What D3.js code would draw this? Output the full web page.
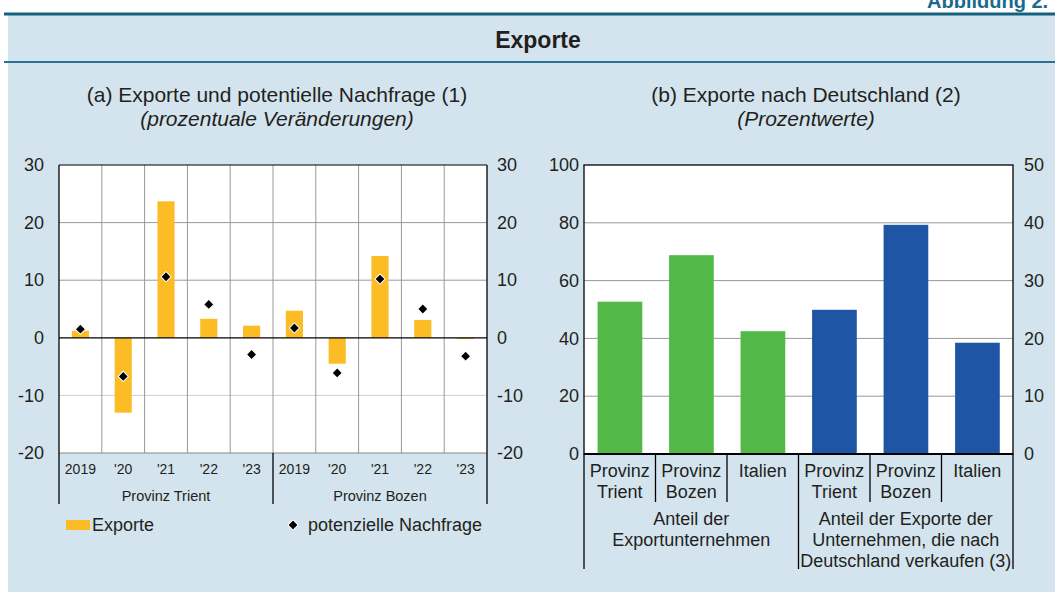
<!DOCTYPE html>
<html>
<head>
<meta charset="utf-8">
<script src="https://cdn.jsdelivr.net/npm/d3@7"></script>
<style>
  body { margin: 0; background: #fff; }
  svg text { font-family: "Liberation Sans", Arial, sans-serif; fill: #231f20; }
</style>
</head>
<body>
<svg id="chart" width="1055" height="592"></svg>
<script>
// panel (a)
var years = ["2019", "'20", "'21", "'22", "'23"];
var provinces = ["Provinz Trient", "Provinz Bozen"];
var exporte = [1.2, -13.0, 23.7, 3.3, 2.1, 4.7, -4.5, 14.2, 3.1, -0.2];
var nachfrage = [1.5, -6.7, 10.6, 5.8, -2.9, 1.7, -6.1, 10.2, 5.0, -3.2];
var ticksA = [-20, -10, 0, 10, 20, 30];

// panel (b)
var catsB = [["Provinz", "Trient"], ["Provinz", "Bozen"], ["Italien"], ["Provinz", "Trient"], ["Provinz", "Bozen"], ["Italien"]];
var anteil = [52.7, 68.8, 42.5, 49.9, 79.3, 38.5];
var groupsB = [["Anteil der", "Exportunternehmen"], ["Anteil der Exporte der", "Unternehmen, die nach", "Deutschland verkaufen (3)"]];
var ticksBL = [0, 20, 40, 60, 80, 100];
var ticksBR = [0, 10, 20, 30, 40, 50];

var svg = d3.select("#chart");
var bg = "#d3e4ee";
var fmt = function(d) { return String(d); }; // plain hyphen minus like the original

svg.append("rect").attr("x", 8).attr("y", 14).attr("width", 1047).attr("height", 578).attr("fill", bg);
svg.append("line").attr("x1", 4).attr("x2", 1055).attr("y1", 14).attr("y2", 14).attr("stroke", "#15607f").attr("stroke-width", 3);
svg.append("line").attr("x1", 4).attr("x2", 1055).attr("y1", 62).attr("y2", 62).attr("stroke", "#2b7194").attr("stroke-width", 2);
svg.append("text").attr("x", 927).attr("y", 8).attr("font-size", 20).attr("font-weight", "bold")
  .style("fill", "#1b6a8d").text("Abbildung 2.");
svg.append("text").attr("x", 538).attr("y", 48).attr("text-anchor", "middle").attr("font-size", 23)
  .attr("font-weight", "bold").text("Exporte");

// titles
function title(x, a, b) {
  svg.append("text").attr("x", x).attr("y", 102).attr("text-anchor", "middle").attr("font-size", 21).text(a);
  svg.append("text").attr("x", x).attr("y", 126).attr("text-anchor", "middle").attr("font-size", 21)
    .attr("font-style", "italic").text(b);
}
title(277, "(a) Exporte und potentielle Nachfrage (1)", "(prozentuale Veränderungen)");
title(806, "(b) Exporte nach Deutschland (2)", "(Prozentwerte)");

// ---------- panel (a)
var ax0 = 59, ax1 = 487, ayTop = 165, ayBot = 453;
var labelsA = [];
provinces.forEach(function(p, i) { years.forEach(function(y) { labelsA.push(i + "|" + y); }); });

var xa = d3.scaleBand().domain(labelsA).range([ax0, ax1]).paddingInner(0).paddingOuter(0);
var ya = d3.scaleLinear().domain([-20, 30]).range([ayBot, ayTop]);

var ga = svg.append("g");
ga.append("rect").attr("x", ax0).attr("y", ayTop).attr("width", ax1 - ax0).attr("height", ayBot - ayTop).attr("fill", "#fff");

// horizontal grid
ga.selectAll(".hg").data([-10, 10, 20]).enter().append("line")
  .attr("x1", ax0).attr("x2", ax1).attr("y1", ya).attr("y2", ya)
  .attr("stroke", function(d) { return d < 0 ? "#cfcfcf" : "#999"; }).attr("stroke-width", 1);
// vertical grid
ga.selectAll(".vg").data(labelsA.slice(1)).enter().append("line")
  .attr("x1", function(d) { return xa(d); }).attr("x2", function(d) { return xa(d); })
  .attr("y1", ayTop).attr("y2", ayBot).attr("stroke", "#999").attr("stroke-width", 1);

ga.selectAll(".bar").data(exporte).enter().append("rect")
  .attr("x", function(d, i) { return xa(labelsA[i]) + xa.bandwidth() * 0.3; })
  .attr("width", xa.bandwidth() * 0.4)
  .attr("y", function(d) { return ya(Math.max(0, d)); })
  .attr("height", function(d) { return Math.abs(ya(d) - ya(0)); })
  .attr("fill", "#fcbc26");

ga.append("line").attr("x1", ax0).attr("x2", ax1).attr("y1", ya(0)).attr("y2", ya(0)).attr("stroke", "#000").attr("stroke-width", 1.3);

var diamond = d3.symbol().type(d3.symbolSquare).size(52);
ga.selectAll(".dm").data(nachfrage).enter().append("path")
  .attr("d", diamond)
  .attr("transform", function(d, i) { return "translate(" + (xa(labelsA[i]) + xa.bandwidth() / 2) + "," + ya(d) + ") rotate(45)"; })
  .attr("fill", "#000").attr("stroke", "#fff").attr("stroke-width", 1);

// frame
ga.append("line").attr("x1", ax0).attr("x2", ax1).attr("y1", ayTop).attr("y2", ayTop).attr("stroke", "#000");
ga.append("line").attr("x1", ax0).attr("x2", ax1).attr("y1", ayBot).attr("y2", ayBot).attr("stroke", "#888");
[ax0, xa(labelsA[5]), ax1].forEach(function(x, i) {
  ga.append("line").attr("x1", x).attr("x2", x).attr("y1", i === 1 ? ayBot : ayTop).attr("y2", 504)
    .attr("stroke", "#000").attr("stroke-width", 1.3);
});

// axes
var yaL = d3.axisLeft(ya).tickValues(ticksA).tickFormat(fmt).tickSize(0).tickPadding(15);
var yaR = d3.axisRight(ya).tickValues(ticksA).tickFormat(fmt).tickSize(0).tickPadding(10);
var gl = ga.append("g").attr("transform", "translate(" + ax0 + ",0)").call(yaL);
var gr = ga.append("g").attr("transform", "translate(" + ax1 + ",0)").call(yaR);
[gl, gr].forEach(function(g) {
  g.select(".domain").remove();
  g.selectAll("text").attr("font-size", 18).style("font-family", "Liberation Sans, Arial, sans-serif").attr("fill", "#231f20");
});

var xaAxis = d3.axisBottom(xa).tickSize(0).tickPadding(11).tickFormat(function(d) { return d.split("|")[1]; });
var gx = ga.append("g").attr("transform", "translate(0," + ayBot + ")").call(xaAxis);
gx.select(".domain").remove();
gx.selectAll("text").attr("font-size", 14).style("font-family", "Liberation Sans, Arial, sans-serif").attr("fill", "#231f20");

provinces.forEach(function(p, i) {
  var x = (xa(labelsA[i * 5]) + xa(labelsA[i * 5 + 4]) + xa.bandwidth()) / 2;
  ga.append("text").attr("x", x).attr("y", 501).attr("text-anchor", "middle").attr("font-size", 14.5).text(p);
});

// legend
ga.append("rect").attr("x", 66).attr("y", 520).attr("width", 24).attr("height", 10).attr("fill", "#fcbc26");
ga.append("text").attr("x", 92).attr("y", 531).attr("font-size", 18).text("Exporte");
ga.append("path").attr("d", diamond).attr("transform", "translate(293,525) rotate(45)").attr("fill", "#000").attr("stroke", "#fff");
ga.append("text").attr("x", 308).attr("y", 531).attr("font-size", 18).text("potenzielle Nachfrage");

// ---------- panel (b)
var bx0 = 584, bx1 = 1013, byTop = 165, byBot = 454;
var xb = d3.scaleBand().domain(d3.range(catsB.length)).range([bx0, bx1]);
var yb = d3.scaleLinear().domain([0, 100]).range([byBot, byTop]);
var ybR = d3.scaleLinear().domain([0, 50]).range([byBot, byTop]);

var gb = svg.append("g");
gb.append("rect").attr("x", bx0).attr("y", byTop).attr("width", bx1 - bx0).attr("height", byBot - byTop).attr("fill", "#fff");
gb.selectAll(".hg").data([20, 40, 60, 80]).enter().append("line")
  .attr("x1", bx0).attr("x2", bx1).attr("y1", yb).attr("y2", yb).attr("stroke", "#999");

gb.selectAll(".bar").data(anteil).enter().append("rect")
  .attr("x", function(d, i) { return xb(i) + xb.bandwidth() * 0.19; })
  .attr("width", xb.bandwidth() * 0.625)
  .attr("y", function(d) { return yb(d); })
  .attr("height", function(d) { return yb(0) - yb(d); })
  .attr("fill", function(d, i) { return i < 3 ? "#52b848" : "#1e55a5"; });

gb.append("rect").attr("x", bx0).attr("y", byTop).attr("width", bx1 - bx0).attr("height", byBot - byTop)
  .attr("fill", "none").attr("stroke", "#000").attr("stroke-width", 1.3);
gb.append("line").attr("x1", bx0).attr("x2", bx1).attr("y1", byBot).attr("y2", byBot).attr("stroke", "#000").attr("stroke-width", 2);

// category separators
d3.range(catsB.length + 1).forEach(function(i) {
  var x = i < catsB.length ? xb(i) : bx1;
  var long = (i === 0 || i === 3 || i === 6);
  gb.append("line").attr("x1", x).attr("x2", x).attr("y1", byBot).attr("y2", long ? 569 : 502)
    .attr("stroke", "#000").attr("stroke-width", 1.3);
});

catsB.forEach(function(c, i) {
  var t = gb.append("text").attr("x", xb(i) + xb.bandwidth() / 2).attr("y", 477).attr("text-anchor", "middle").attr("font-size", 18);
  c.forEach(function(line, j) {
    t.append("tspan").attr("x", xb(i) + xb.bandwidth() / 2).attr("dy", j === 0 ? 0 : 21).text(line);
  });
});
groupsB.forEach(function(g, i) {
  var x = (xb(i * 3) + xb(i * 3 + 2) + xb.bandwidth()) / 2;
  var t = gb.append("text").attr("x", x).attr("y", 525).attr("text-anchor", "middle").attr("font-size", 18);
  g.forEach(function(line, j) {
    t.append("tspan").attr("x", x).attr("dy", j === 0 ? 0 : 21).text(line);
  });
});

var gbl = gb.append("g").attr("transform", "translate(" + bx0 + ",0)")
  .call(d3.axisLeft(yb).tickValues(ticksBL).tickFormat(fmt).tickSize(0).tickPadding(5));
var gbr = gb.append("g").attr("transform", "translate(" + bx1 + ",0)")
  .call(d3.axisRight(ybR).tickValues(ticksBR).tickFormat(fmt).tickSize(0).tickPadding(11));
[gbl, gbr].forEach(function(g) {
  g.select(".domain").remove();
  g.selectAll("text").attr("font-size", 18).style("font-family", "Liberation Sans, Arial, sans-serif").attr("fill", "#231f20");
});
</script>
</body>
</html>
